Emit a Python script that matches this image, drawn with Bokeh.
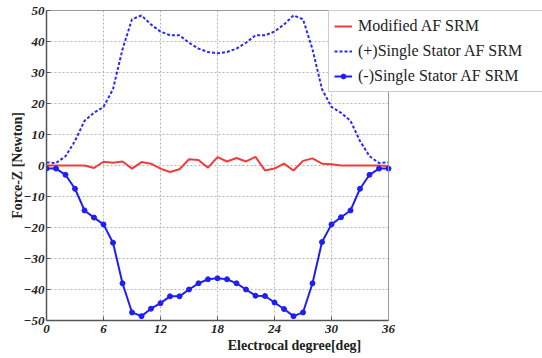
from bokeh.plotting import figure
from bokeh.models import Range1d, FixedTicker, Legend, LegendItem, LinearAxis, Span
from bokeh.embed import file_html
from bokeh.resources import INLINE

degrees = list(range(0, 37))
modified = [0, 0, 0, 0, 0, -0.8, 1.2, 0.9, 1.3, -1.0, 1.1, 0.6, -1.0, -2.1, -1.2, 2.0, 1.8, -0.7,
            2.7, 1.3, 2.4, 1.3, 2.8, -1.6, -1.0, 0.6, -1.6, 1.5, 2.3, 0.6, 0.4, 0.0, 0.0, 0.0, 0.0, 0.0, -0.2]
plus_single = [1.0, 0.8, 3.0, 7.9, 14.4, 17.0, 18.9, 24.6, 37.5, 47.2, 48.4, 45.5, 43.2, 42.0, 42.0, 39.6, 37.7, 36.6,
               36.2, 36.6, 37.7, 39.6, 42.0, 42.0, 43.2, 45.5, 48.4, 47.2, 37.5, 24.6, 18.9, 17.0, 14.4, 7.9, 3.0, 0.8, 1.0]
minus_single = [-1.0, -1.0, -3.0, -7.5, -14.5, -16.8, -19.0, -24.9, -38.0, -47.4, -48.6, -46.2, -44.4, -42.2, -42.2, -40.0, -38.0, -36.7,
                -36.4, -36.7, -38.0, -40.0, -42.0, -42.1, -44.2, -46.3, -48.6, -47.4, -38.0, -24.7, -19.0, -16.7, -14.5, -7.5, -3.0, -1.0, -1.0]
x_ticks = [0, 6, 12, 18, 24, 30, 36]
y_ticks = [-50, -40, -30, -20, -10, 0, 10, 20, 30, 40, 50]
labels = ["Modified AF SRM", "(+)Single Stator AF SRM", "(-)Single Stator AF SRM"]
x_min, x_max = 0, 36
y_min, y_max = -50, 50

# frame extends to the right edge so the legend can overhang the axes box
x_view_end = x_max * 496 / 342

p = figure(width=542, height=358, output_backend="svg", toolbar_location=None,
           x_range=Range1d(x_min, x_view_end), y_range=Range1d(y_min, y_max),
           min_border_left=46, min_border_right=0, min_border_top=10, min_border_bottom=38)
p.background_fill_color = "white"
p.border_fill_color = "white"
p.outline_line_color = None

serif = "Liberation Serif"
for ax in (p.xaxis[0], p.yaxis[0]):
    ax.major_label_text_font = serif
    ax.major_label_text_font_style = "bold italic"
    ax.major_label_text_font_size = "13px"
    ax.major_label_text_color = "#222222"
    ax.axis_label_text_font = serif
    ax.axis_label_text_font_style = "bold"
    ax.axis_label_text_font_size = "14px"
    ax.axis_label_text_color = "#222222"
    ax.axis_line_color = "#555555"
    ax.axis_line_width = 1.5
    ax.major_tick_in = 4
    ax.major_tick_out = 0
    ax.minor_tick_in = 0
    ax.minor_tick_out = 0
    ax.major_tick_line_color = "#555555"

p.xaxis.bounds = (x_min, x_max)
p.xaxis.ticker = FixedTicker(ticks=x_ticks)
p.yaxis.ticker = FixedTicker(ticks=y_ticks)
p.xaxis.axis_label = "Electrocal degree[deg]"
p.yaxis.axis_label = "Force-Z [Newton]"
p.xaxis.major_label_standoff = 4
p.xaxis.axis_label_standoff = 2
p.yaxis.major_label_standoff = 2
p.yaxis.axis_label_standoff = -4

top_axis = LinearAxis(bounds=(x_min, x_max), ticker=FixedTicker(ticks=[]),
                      major_label_text_font_size="0px", major_tick_in=0, major_tick_out=0,
                      minor_tick_in=0, minor_tick_out=0, axis_line_color="#9a9a9a",
                      major_label_standoff=0)
p.add_layout(top_axis, "above")

p.xgrid.grid_line_color = "#b5b5b5"
p.ygrid.grid_line_color = "#b5b5b5"
p.grid.grid_line_dash = "2 2"
p.grid.grid_line_width = 1
p.ygrid.cross_bounds = (x_min, x_max)
p.xgrid.bounds = (x_min, x_max)

right_edge = Span(location=x_max, dimension="height", line_color="#9a9a9a", line_width=1)
p.add_layout(right_edge)

r1 = p.line(degrees, modified, line_color="#f03c3c", line_width=2)
r2 = p.line(degrees, plus_single, line_color="#2a2af5", line_width=2, line_dash="3 2")
r3 = p.line(degrees, minus_single, line_color="#1e1ef5", line_width=2)
r4 = p.scatter(degrees, minus_single, size=5, marker="circle", fill_color="#1e1ef5", line_color="#1e1ef5")

legend = Legend(items=[LegendItem(label=labels[0], renderers=[r1]),
                       LegendItem(label=labels[1], renderers=[r2]),
                       LegendItem(label=labels[2], renderers=[r3, r4])],
                location=(282, 228))
legend.label_text_font = serif
legend.label_text_font_size = "16px"
legend.label_text_color = "#222222"
legend.label_height = 20
legend.label_width = 180
legend.label_standoff = 6
legend.glyph_width = 18
legend.glyph_height = 12
legend.spacing = 5
legend.padding = 5
legend.margin = 0
legend.border_line_color = "#999999"
legend.background_fill_alpha = 1
p.add_layout(legend, "center")

open("out.html", "w").write(file_html(p, INLINE))
